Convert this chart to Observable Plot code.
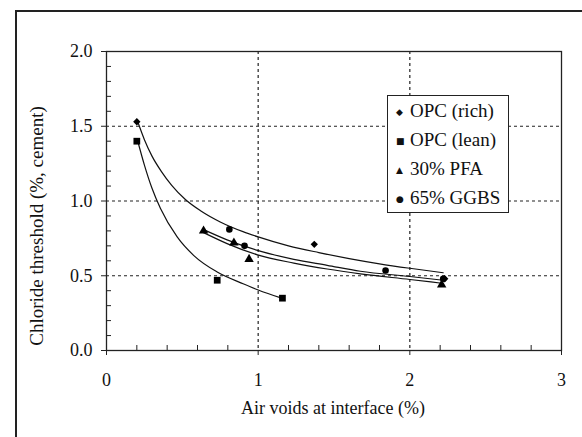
<!DOCTYPE html>
<html><head><meta charset="utf-8">
<script src="https://cdn.jsdelivr.net/npm/d3@7"></script>
<script src="https://cdn.jsdelivr.net/npm/@observablehq/plot@0.6"></script>
<style>
html,body{margin:0;padding:0;background:#fff;}
#wrap{position:relative;width:582px;height:437px;overflow:hidden;font-family:"Liberation Serif","DejaVu Serif",serif;color:#111;}
#border{position:absolute;left:15px;top:10px;width:570px;height:440px;border-left:2px solid #222;border-top:2px solid #222;}
#chart{position:absolute;left:0;top:0;}
#legend{position:absolute;left:387px;top:95px;width:120px;border:1px solid #222;background:#fff;font-size:19px;}
#legend .row{height:29px;line-height:29px;white-space:nowrap;padding-left:8px;}
#legend .sym{display:inline-block;width:14px;font-family:"DejaVu Sans";font-size:9px;vertical-align:middle;line-height:29px;}
#xtitle{position:absolute;left:233px;width:200px;text-align:center;top:398px;font-size:18px;white-space:nowrap;}
#ytitle{position:absolute;left:37px;top:226px;transform:translate(-50%,-50%) rotate(-90deg);font-size:19px;white-space:nowrap;}
</style></head>
<body>
<div id="wrap">
  <div id="border"></div>
  <div id="chart"></div>
  <div id="legend"></div>
  <div id="xtitle">Air voids at interface (%)</div>
  <div id="ytitle">Chloride threshold (%, cement)</div>
</div>
<script>
// ---- data ----
const seriesNames = ["OPC (rich)", "OPC (lean)", "30% PFA", "65% GGBS"];
const seriesSymbols = ["◆", "■", "▲", "●"];

const opcRichX = [0.20, 1.37, 2.23];
const opcRichY = [1.53, 0.71, 0.48];
const opcLeanX = [0.20, 0.73, 1.16];
const opcLeanY = [1.40, 0.47, 0.35];
const pfaX = [0.64, 0.84, 0.94, 2.21];
const pfaY = [0.80, 0.72, 0.61, 0.44];
const ggbsX = [0.81, 0.91, 1.84, 2.22];
const ggbsY = [0.81, 0.70, 0.535, 0.48];

// fitted trend lines
const richFitX = [0.206, 0.25, 0.30, 0.36, 0.43, 0.52, 0.62, 0.75, 0.90, 1.0, 1.2, 1.4, 1.6, 1.8, 2.0, 2.22];
const richFitY = [1.53, 1.41, 1.30, 1.20, 1.105, 1.01, 0.935, 0.86, 0.795, 0.76, 0.70, 0.655, 0.615, 0.58, 0.55, 0.52];
const leanFitX = [0.206, 0.25, 0.30, 0.356, 0.466, 0.576, 0.73, 0.905, 1.0, 1.155];
const leanFitY = [1.40, 1.24, 1.085, 0.95, 0.76, 0.635, 0.525, 0.445, 0.405, 0.35];
const ggbsFitX = [0.637, 0.795, 0.995, 1.235, 1.455, 1.674, 2.0, 2.22];
const ggbsFitY = [0.81, 0.74, 0.67, 0.61, 0.57, 0.53, 0.495, 0.47];
const pfaFitX = [0.637, 0.795, 0.995, 1.235, 1.455, 1.674, 2.0, 2.21];
const pfaFitY = [0.79, 0.715, 0.64, 0.585, 0.545, 0.513, 0.475, 0.45];

const xTicks = [0, 1, 2, 3];
const yTicks = [0, 0.5, 1.0, 1.5, 2.0];
const xGrid = [1, 2];
const yGrid = [0.5, 1.0, 1.5];
const xMinor = [0.2, 0.4, 0.6, 0.8, 1.2, 1.4, 1.6, 1.8, 2.2, 2.4, 2.6, 2.8];
const yMinor = [0.1, 0.2, 0.3, 0.4, 0.6, 0.7, 0.8, 0.9, 1.1, 1.2, 1.3, 1.4, 1.6, 1.7, 1.8, 1.9];

const pts = (xs, ys) => xs.map((x, i) => ({x, y: ys[i]}));

const W = 582, H = 437, mL = 106, mR = 21, mT = 51, mB = 87;
const plotW = W - mL - mR, plotH = H - mT - mB;

const chart = Plot.plot({
  width: W, height: H,
  marginLeft: mL, marginRight: mR, marginTop: mT, marginBottom: mB,
  x: {domain: [0, 3]},
  y: {domain: [0, 2]},
  style: {fontFamily: "'Liberation Serif', 'DejaVu Serif', serif", fontSize: "18px", background: "transparent", color: "#111"},
  marks: [
    Plot.ruleX(xGrid, {x: d => d, stroke: "#222", strokeWidth: 1.2, strokeDasharray: "3,3"}),
    Plot.ruleY(yGrid, {y: d => d, stroke: "#222", strokeWidth: 1.2, strokeDasharray: "3,3"}),
    Plot.frame({stroke: "#222", strokeWidth: 1.3}),
    Plot.tickY(yMinor, {y: d => d, stroke: "#222", insetRight: plotW - 5}),
    Plot.tickX(xMinor, {x: d => d, stroke: "#222", insetTop: plotH - 5}),
    Plot.axisY({ticks: yTicks, tickSize: 5, fill: "none", label: null, stroke: "#222"}),
    Plot.axisX({ticks: xTicks, tickSize: 5, fill: "none", label: null, stroke: "#222"}),
    Plot.axisY({ticks: yTicks, tickSize: 0, tickPadding: 14, tickFormat: d3.format(".1f"), label: null}),
    Plot.axisX({ticks: xTicks, tickSize: 0, tickPadding: 23, tickFormat: d3.format("d"), label: null}),
    Plot.line(pts(richFitX, richFitY), {x: "x", y: "y", curve: "monotone-x", stroke: "#111", strokeWidth: 1.2}),
    Plot.line(pts(leanFitX, leanFitY), {x: "x", y: "y", curve: "monotone-x", stroke: "#111", strokeWidth: 1.2}),
    Plot.line(pts(ggbsFitX, ggbsFitY), {x: "x", y: "y", curve: "monotone-x", stroke: "#111", strokeWidth: 1.2}),
    Plot.line(pts(pfaFitX, pfaFitY), {x: "x", y: "y", curve: "monotone-x", stroke: "#111", strokeWidth: 1.2}),
    Plot.dot(pts(opcRichX, opcRichY), {x: "x", y: "y", symbol: "diamond2", r: 3.3, fill: "#000"}),
    Plot.dot(pts(opcLeanX, opcLeanY), {x: "x", y: "y", symbol: "square", r: 3.8, fill: "#000"}),
    Plot.dot(pts(pfaX, pfaY), {x: "x", y: "y", symbol: "triangle", r: 3.5, fill: "#000"}),
    Plot.dot(pts(ggbsX, ggbsY), {x: "x", y: "y", symbol: "circle", r: 3.3, fill: "#000"})
  ]
});
document.getElementById("chart").appendChild(chart);

const leg = document.getElementById("legend");
seriesNames.forEach((name, i) => {
  const row = document.createElement("div");
  row.className = "row";
  const s = document.createElement("span");
  s.className = "sym";
  s.textContent = seriesSymbols[i];
  row.appendChild(s);
  row.appendChild(document.createTextNode(name));
  leg.appendChild(row);
});
</script>
</body></html>
